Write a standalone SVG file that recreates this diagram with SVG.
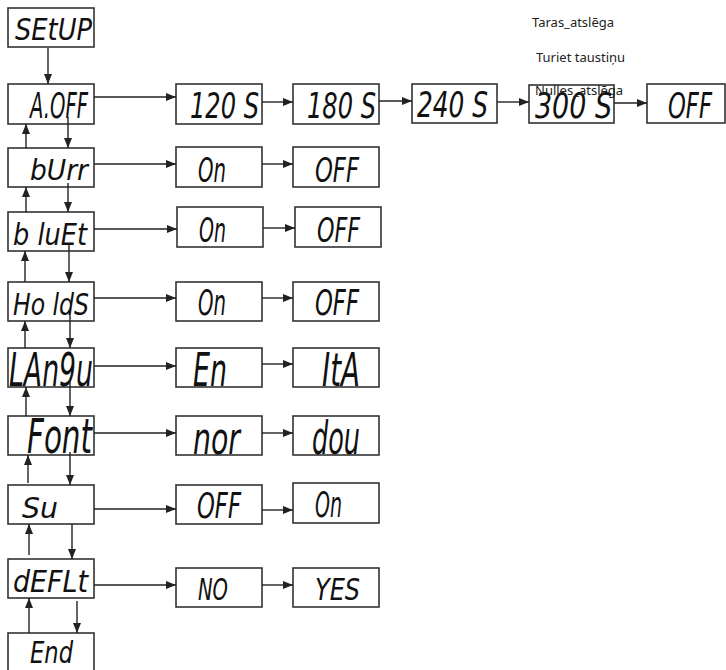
<svg xmlns="http://www.w3.org/2000/svg" width="726" height="670" viewBox="0 0 726 670">
<style>
rect.b{fill:#fff;stroke:#333;stroke-width:1.6}
text.d{font-family:"DejaVu Sans Condensed","DejaVu Sans",sans-serif;font-style:oblique;fill:#111}
text.l{font-family:"Noto Sans","Open Sans",sans-serif;font-size:13px;fill:#222}
#conn line{stroke:#222;stroke-width:1.4;fill:none;marker-end:url(#ah)}
</style>
<defs>
<marker id="ah" markerUnits="userSpaceOnUse" markerWidth="10" markerHeight="8" refX="10" refY="4" orient="auto"><path d="M0,0 L10,4 L0,8 z" fill="#222"/></marker>
</defs>
<rect width="726" height="670" fill="#fff"/>

<g id="n-setup"><rect class="b" x="8" y="8" width="86" height="39"/><text class="d" x="15" y="40" font-size="31" textLength="77" lengthAdjust="spacingAndGlyphs">SEtUP</text></g>
<g id="n-aoff"><rect class="b" x="8" y="84" width="86" height="40"/><text class="d" x="30" y="118" font-size="35" textLength="58" lengthAdjust="spacingAndGlyphs">A.OFF</text></g>
<g id="n-120"><rect class="b" x="176" y="84" width="86" height="40"/><text class="d" x="190" y="118" font-size="35" textLength="69" lengthAdjust="spacingAndGlyphs">120 S</text></g>
<g id="n-180"><rect class="b" x="293" y="84" width="86" height="40"/><text class="d" x="307" y="118" font-size="35" textLength="69" lengthAdjust="spacingAndGlyphs">180 S</text></g>
<g id="n-240"><rect class="b" x="412" y="84" width="85" height="39"/><text class="d" x="417" y="117" font-size="35" textLength="71" lengthAdjust="spacingAndGlyphs">240 S</text></g>
<g id="n-300"><rect class="b" x="529" y="85" width="85" height="38"/><text class="d" x="535" y="118" font-size="35" textLength="77" lengthAdjust="spacingAndGlyphs">300 S</text></g>
<g id="n-aoff-off"><rect class="b" x="647" y="84" width="78" height="39"/><text class="d" x="668" y="118" font-size="35" textLength="44" lengthAdjust="spacingAndGlyphs">OFF</text></g>

<g id="n-burr"><rect class="b" x="8" y="148" width="86" height="39"/><text class="d" x="30" y="180" font-size="28" textLength="58" lengthAdjust="spacingAndGlyphs">bUrr</text></g>
<g id="n-burr-on"><rect class="b" x="176" y="147" width="86" height="40"/><text class="d" x="198" y="182" font-size="34" textLength="28" lengthAdjust="spacingAndGlyphs">On</text></g>
<g id="n-burr-off"><rect class="b" x="293" y="147" width="86" height="40"/><text class="d" x="315" y="182" font-size="34" textLength="44" lengthAdjust="spacingAndGlyphs">OFF</text></g>

<g id="n-bluet"><rect class="b" x="8" y="212" width="86" height="39"/><text class="d" x="13" y="245" font-size="30" textLength="74" lengthAdjust="spacingAndGlyphs">b luEt</text></g>
<g id="n-bluet-on"><rect class="b" x="177" y="207" width="86" height="40"/><text class="d" x="199" y="242" font-size="34" textLength="27" lengthAdjust="spacingAndGlyphs">On</text></g>
<g id="n-bluet-off"><rect class="b" x="295" y="207" width="86" height="40"/><text class="d" x="317" y="242" font-size="34" textLength="43" lengthAdjust="spacingAndGlyphs">OFF</text></g>

<g id="n-holds"><rect class="b" x="8" y="282" width="86" height="39"/><text class="d" x="13" y="315" font-size="30" textLength="76" lengthAdjust="spacingAndGlyphs">Ho ldS</text></g>
<g id="n-holds-on"><rect class="b" x="176" y="282" width="86" height="39"/><text class="d" x="198" y="315" font-size="35" textLength="28" lengthAdjust="spacingAndGlyphs">On</text></g>
<g id="n-holds-off"><rect class="b" x="293" y="282" width="86" height="39"/><text class="d" x="315" y="315" font-size="35" textLength="44" lengthAdjust="spacingAndGlyphs">OFF</text></g>

<g id="n-langu"><rect class="b" x="8" y="348" width="86" height="39"/><text class="d" x="9" y="386" font-size="47" textLength="84" lengthAdjust="spacingAndGlyphs">LAn9u</text></g>
<g id="n-en"><rect class="b" x="176" y="348" width="86" height="39"/><text class="d" x="193" y="386" font-size="47" textLength="34" lengthAdjust="spacingAndGlyphs">En</text></g>
<g id="n-ita"><rect class="b" x="293" y="348" width="86" height="39"/><text class="d" x="322" y="386" font-size="47" textLength="38" lengthAdjust="spacingAndGlyphs">ItA</text></g>

<g id="n-font"><rect class="b" x="8" y="416" width="86" height="39"/><text class="d" x="27" y="453" font-size="48" textLength="65" lengthAdjust="spacingAndGlyphs">Font</text></g>
<g id="n-nor"><rect class="b" x="176" y="416" width="86" height="39"/><text class="d" x="193" y="454" font-size="44" textLength="47" lengthAdjust="spacingAndGlyphs">nor</text></g>
<g id="n-dou"><rect class="b" x="293" y="416" width="86" height="39"/><text class="d" x="312" y="454" font-size="46" textLength="48" lengthAdjust="spacingAndGlyphs">dou</text></g>

<g id="n-su"><rect class="b" x="8" y="485" width="86" height="39"/><text class="d" x="22" y="518" font-size="29" textLength="36" lengthAdjust="spacingAndGlyphs">Su</text></g>
<g id="n-su-off"><rect class="b" x="176" y="485" width="86" height="39"/><text class="d" x="197" y="518" font-size="35" textLength="44" lengthAdjust="spacingAndGlyphs">OFF</text></g>
<g id="n-su-on"><rect class="b" x="293" y="483" width="86" height="40"/><text class="d" x="315" y="517" font-size="35" textLength="27" lengthAdjust="spacingAndGlyphs">On</text></g>

<g id="n-deflt"><rect class="b" x="8" y="559" width="86" height="39"/><text class="d" x="13" y="592" font-size="30" textLength="75" lengthAdjust="spacingAndGlyphs">dEFLt</text></g>
<g id="n-no"><rect class="b" x="176" y="568" width="86" height="39"/><text class="d" x="198" y="600" font-size="31" textLength="30" lengthAdjust="spacingAndGlyphs">NO</text></g>
<g id="n-yes"><rect class="b" x="293" y="568" width="86" height="39"/><text class="d" x="315" y="600" font-size="31" textLength="45" lengthAdjust="spacingAndGlyphs">YES</text></g>

<g id="n-end"><rect class="b" x="8" y="633" width="86" height="40"/><text class="d" x="30" y="663" font-size="31" textLength="43" lengthAdjust="spacingAndGlyphs">End</text></g>

<g id="conn">
<line x1="48" y1="48" x2="48" y2="84"/>
<line x1="94" y1="97" x2="176" y2="97"/>
<line x1="262" y1="102" x2="293" y2="102"/>
<line x1="379" y1="101" x2="412" y2="101"/>
<line x1="497" y1="102" x2="529" y2="102"/>
<line x1="614" y1="103" x2="647" y2="103"/>

<line x1="68" y1="117" x2="68" y2="148"/>
<line x1="26" y1="148" x2="26" y2="124"/>
<line x1="94" y1="164" x2="176" y2="164"/>
<line x1="262" y1="164" x2="293" y2="164"/>

<line x1="68" y1="183" x2="68" y2="212"/>
<line x1="26" y1="212" x2="26" y2="187"/>
<line x1="94" y1="229" x2="177" y2="229"/>
<line x1="263" y1="228" x2="295" y2="228"/>

<line x1="69" y1="245" x2="69" y2="282"/>
<line x1="25" y1="282" x2="25" y2="251"/>
<line x1="94" y1="298" x2="176" y2="298"/>
<line x1="262" y1="298" x2="293" y2="298"/>

<line x1="70" y1="315" x2="70" y2="348"/>
<line x1="25" y1="348" x2="25" y2="321"/>
<line x1="94" y1="366" x2="176" y2="366"/>
<line x1="262" y1="364" x2="293" y2="364"/>

<line x1="70" y1="380" x2="70" y2="416"/>
<line x1="26" y1="416" x2="26" y2="387"/>
<line x1="94" y1="433" x2="176" y2="433"/>
<line x1="262" y1="433" x2="293" y2="433"/>

<line x1="70" y1="452" x2="70" y2="485"/>
<line x1="28" y1="483" x2="28" y2="455"/>
<line x1="94" y1="509" x2="176" y2="509"/>
<line x1="262" y1="510" x2="293" y2="510"/>

<line x1="72" y1="524" x2="72" y2="559"/>
<line x1="29" y1="555" x2="29" y2="524"/>
<line x1="94" y1="585" x2="176" y2="585"/>
<line x1="262" y1="585" x2="293" y2="585"/>

<line x1="77" y1="601" x2="77" y2="633"/>
<line x1="29" y1="633" x2="29" y2="598"/>
</g>

<g id="labels">
<text class="l" x="532" y="27">Taras_atslēga</text>
<text class="l" x="536" y="62">Turiet taustiņu</text>
<text class="l" x="535" y="95">Nulles_atslēga</text>
</g>
</svg>
